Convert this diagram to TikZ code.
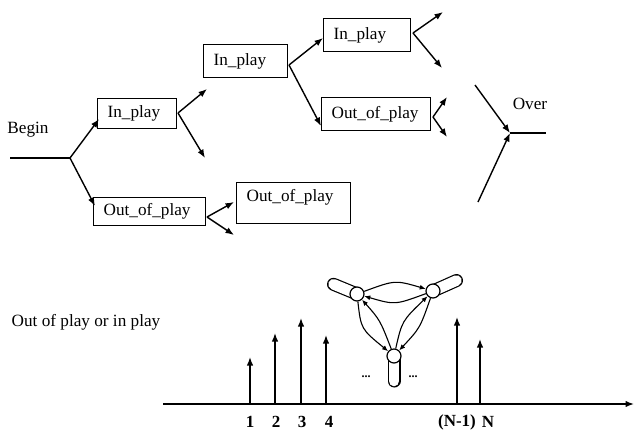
\documentclass[tikz,border=0pt]{standalone}
\usepackage{fontspec}
\setmainfont{Liberation Serif}
\usetikzlibrary{arrows.meta,calc}
\begin{document}
\begin{tikzpicture}[x=1pt,y=-1pt,
  font=\fontsize{17.2}{20}\selectfont,
  box/.style={draw, line width=1.2pt, anchor=north west, inner xsep=10pt, inner ysep=0pt, align=left},
  arr/.style={line width=1.4pt, -{Latex[length=8.5pt,width=6.5pt]}},
  ln/.style={line width=1.4pt},
  spike/.style={line width=1.5pt, -{Latex[length=8.5pt,width=6.5pt]}},
  gnode/.style={circle, draw, fill=white, line width=1.2pt, minimum size=14pt, inner sep=0pt},
  garr/.style={line width=1.1pt, -{Latex[length=6pt,width=5pt]}},
  num/.style={font=\fontsize{17}{20}\selectfont\bfseries}
]
\useasboundingbox (0,0) rectangle (634,437);

% ---- top tree ----
\node (begin) at (28,130) {Begin};
\coordinate (b0) at (10,158);
\coordinate (b1) at (70,158);
\draw[ln] (b0) -- (b1);

\node[box, text width=59pt, minimum height=30pt] (ip1) at (97,98) {In\_play};
\node[box, text width=92pt, minimum height=28pt] (op1) at (93,197) {Out\_of\_play};
\node[box, text width=64pt, minimum height=33pt] (ip2) at (203,44) {In\_play};
\node[box, text width=67pt, minimum height=33pt] (ip3) at (323,18) {In\_play};
\node[box, text width=89pt, minimum height=33pt] (op2) at (321,97) {Out\_of\_play};
\node[box, text width=94pt, minimum height=41pt, text depth=15pt] (op3) at (236,182) {Out\_of\_play};

\draw[arr] (b1) -- (99,119);
\draw[arr] (b1) -- (95,206);

% from In_play 1
\coordinate (s1) at (178,113);
\coordinate (e1a) at (207,89);
\coordinate (e1b) at (205,158);
\draw[arr] (s1) -- (e1a);
\draw[arr] (s1) -- (e1b);

% from In_play 2
\coordinate (s2) at (289,65);
\draw[arr] (s2) -- (323,38);
\draw[arr] (s2) -- (321,126);

% from In_play 3
\coordinate (s3) at (413,33);
\coordinate (e3a) at (443,12);
\coordinate (e3b) at (442,68);
\draw[arr] (s3) -- (e3a);
\draw[arr] (s3) -- (e3b);

% from Out_of_play 2
\coordinate (s4) at (433,117);
\coordinate (e4a) at (447,97);
\coordinate (e4b) at (447,137);
\draw[arr] (s4) -- (e4a);
\draw[arr] (s4) -- (e4b);

% from Out_of_play 1
\coordinate (s5) at (207,217);
\coordinate (e5a) at (234,202);
\coordinate (e5b) at (234,235);
\draw[arr] (s5) -- (e5a);
\draw[arr] (s5) -- (e5b);

% Over
\node (over) at (530,104) {Over};
\coordinate (o1) at (475,85);
\coordinate (o2) at (478,202);
\coordinate (oc) at (510,133);
\coordinate (oe) at (546,133);
\draw[arr] (o1) -- (oc);
\draw[arr] (o2) -- (oc);
\draw[ln] (oc) -- (oe);

% ---- bottom ----
\node (oop) at (86,322) {Out of play or in play};
\coordinate (ax0) at (163,404);
\coordinate (ax1) at (634,404);
\draw[spike] (ax0) -- (ax1);

\foreach \nm/\x/\t in {k1/250/357, k2/275/333, k3/301/318, k4/326/335, kn1/457/317, kn/480/339} {
  \coordinate (\nm b) at (\x,404);
  \coordinate (\nm t) at (\x,\t);
  \draw[spike] (\nm b) -- (\nm t);
}
\node[num] (l1) at (250,422) {1};
\node[num] (l2) at (276,422) {2};
\node[num] (l3) at (302,422) {3};
\node[num] (l4) at (329,422) {4};
\node[num] (ln1) at (457,422) {(N-1)};
\node[num] (lN) at (488,422) {N};

% small graph
\coordinate (Lc) at (333.5,284.3);
\coordinate (Rc) at (456.5,280.5);
\coordinate (Bc) at (394,381);
\coordinate (Lp) at (357,294);
\coordinate (Rp) at (433,291);
\coordinate (Bp) at (394,356);
\foreach \a/\b in {Lp/Lc, Rp/Rc, Bp/Bc} {
  \draw[line width=13pt, line cap=round] (\a) -- (\b);
  \draw[line width=10.6pt, line cap=round, white] (\a) -- (\b);
}
\node[gnode] (L) at (Lp) {};
\node[gnode] (R) at (Rp) {};
\node[gnode] (B) at (Bp) {};
\draw[garr] (L) .. controls (395,280) .. (R);
\draw[garr] (R) .. controls (395,305) .. (L);
\draw[garr] (L) .. controls (361,329) .. (B);
\draw[garr] (B) .. controls (380,320) .. (L);
\draw[garr] (R) .. controls (420,328) .. (B);
\draw[garr] (B) .. controls (402,321) .. (R);

\node[font=\fontsize{12}{14}\selectfont\bfseries] (d1) at (366,377) {...};
\node[font=\fontsize{12}{14}\selectfont\bfseries] (d2) at (413,377) {...};
\end{tikzpicture}
\end{document}
